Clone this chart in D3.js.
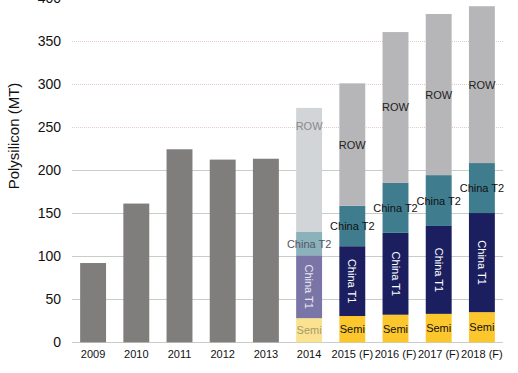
<!DOCTYPE html>
<html>
<head>
<meta charset="utf-8">
<script src="https://cdn.jsdelivr.net/npm/d3@7"></script>
<style>
  body { margin: 0; background: #fff; }
  text { font-family: "Liberation Sans", Arial, sans-serif; }
</style>
</head>
<body>
<div id="chart"></div>
<script>
// Data
const years = ["2009", "2010", "2011", "2012", "2013", "2014", "2015 (F)", "2016 (F)", "2017 (F)", "2018 (F)"];
const histYears = ["2009", "2010", "2011", "2012", "2013"];
const histValues = [92, 161, 224, 212, 213];
const stackYears = ["2014", "2015 (F)", "2016 (F)", "2017 (F)", "2018 (F)"];
const semi = [28, 30.5, 32, 33, 35];
const chinaT1 = [73, 81, 95, 102, 115];
const chinaT2 = [27, 47, 58, 59, 58];
const row = [144, 142, 175, 187, 182];
const segmentNames = ["Semi", "China T1", "China T2", "ROW"];
const yTicks = [0, 50, 100, 150, 200, 250, 300, 350, 400];

const width = 518, height = 373;
const colors = { "Semi": "#fcc62d", "China T1": "#1c1f5f", "China T2": "#3f7c8e", "ROW": "#b6b6b8" };
const fadedColors = { "Semi": "#fae290", "China T1": "#7a75a7", "China T2": "#8bb1bb", "ROW": "#d2d5d7" };
const labelColors = { "Semi": "#111", "China T1": "#fff", "China T2": "#111", "ROW": "#222" };
const fadedLabelColors = { "Semi": "#a89a70", "China T1": "#e8e8f0", "China T2": "#556", "ROW": "#8a8a8a" };

const svg = d3.select("#chart")
    .append("svg")
    .attr("width", width)
    .attr("height", height);

const x = d3.scaleBand()
    .domain(years)
    .range([71.5, 503.5])
    .paddingInner(0.4)
    .paddingOuter(0.2);

const y = d3.scaleLinear()
    .domain([0, 400])
    .range([342.3, -2.4]);

// Gridlines
svg.append("g")
    .selectAll("line")
    .data(yTicks)
    .join("line")
    .attr("x1", 72)
    .attr("x2", 503)
    .attr("y1", d => Math.round(y(d)) + 0.5)
    .attr("y2", d => Math.round(y(d)) + 0.5)
    .attr("stroke", d => d > 200 ? "#e6c9cc" : "#c7cdc7")
    .attr("stroke-dasharray", d => d > 200 ? "1,1" : null)
    .attr("stroke-width", 1);

// Y axis tick labels
const leftAxis = d3.axisLeft(y).tickValues(yTicks).tickSize(0).tickPadding(0);
const yAxisG = svg.append("g")
    .attr("transform", "translate(61,0)")
    .call(leftAxis);
yAxisG.select(".domain").remove();
yAxisG.selectAll("text")
    .attr("font-size", 14)
    .attr("fill", "#111")
    .style("font-family", "'Liberation Sans', Arial, sans-serif");

svg.append("text")
    .text("Polysilicon (MT)")
    .attr("transform", "translate(19,136) rotate(-90)")
    .attr("text-anchor", "middle")
    .attr("font-size", 15)
    .attr("fill", "#111");

// X axis labels
const bottomAxis = d3.axisBottom(x).tickSize(0).tickPadding(0);
const xAxisG = svg.append("g")
    .attr("transform", "translate(0,350)")
    .call(bottomAxis);
xAxisG.select(".domain").remove();
xAxisG.selectAll("text")
    .attr("font-size", 11)
    .attr("dy", "0.71em")
    .attr("fill", "#111")
    .style("font-family", "'Liberation Sans', Arial, sans-serif");

// Historical bars
svg.append("g")
    .selectAll("rect")
    .data(histYears)
    .join("rect")
    .attr("x", d => x(d))
    .attr("width", x.bandwidth())
    .attr("y", (d, i) => y(histValues[i]))
    .attr("height", (d, i) => y(0) - y(histValues[i]))
    .attr("fill", "#807e7d");

// Stacked bars
const table = stackYears.map((yr, i) => ({
    year: yr, "Semi": semi[i], "China T1": chinaT1[i], "China T2": chinaT2[i], "ROW": row[i]
}));
const series = d3.stack().keys(segmentNames)(table);

const groups = svg.append("g")
    .selectAll("g")
    .data(series)
    .join("g");

groups.selectAll("rect")
    .data(s => s.map(d => ({ key: s.key, d })))
    .join("rect")
    .attr("x", e => x(e.d.data.year))
    .attr("width", x.bandwidth())
    .attr("y", e => y(e.d[1]))
    .attr("height", e => y(e.d[0]) - y(e.d[1]))
    .attr("fill", e => e.d.data.year === "2014" ? fadedColors[e.key] : colors[e.key]);

// Segment labels
groups.selectAll("text")
    .data(s => s.map(d => ({ key: s.key, d })))
    .join("text")
    .text(e => e.key)
    .attr("font-size", 11)
    .attr("text-anchor", "middle")
    .attr("dominant-baseline", "central")
    .attr("fill", e => e.d.data.year === "2014" ? fadedLabelColors[e.key] : labelColors[e.key])
    .attr("transform", e => {
        const cx = x(e.d.data.year) + x.bandwidth() / 2;
        let v = (e.d[0] + e.d[1]) / 2;
        if (e.d.data.year === "2014" && e.key === "ROW") v = e.d[0] + (e.d[1] - e.d[0]) * 0.855;
        const cy = y(v);
        return e.key === "China T1" ? `translate(${cx},${cy}) rotate(90)` : `translate(${cx},${cy})`;
    });
</script>
</body>
</html>
